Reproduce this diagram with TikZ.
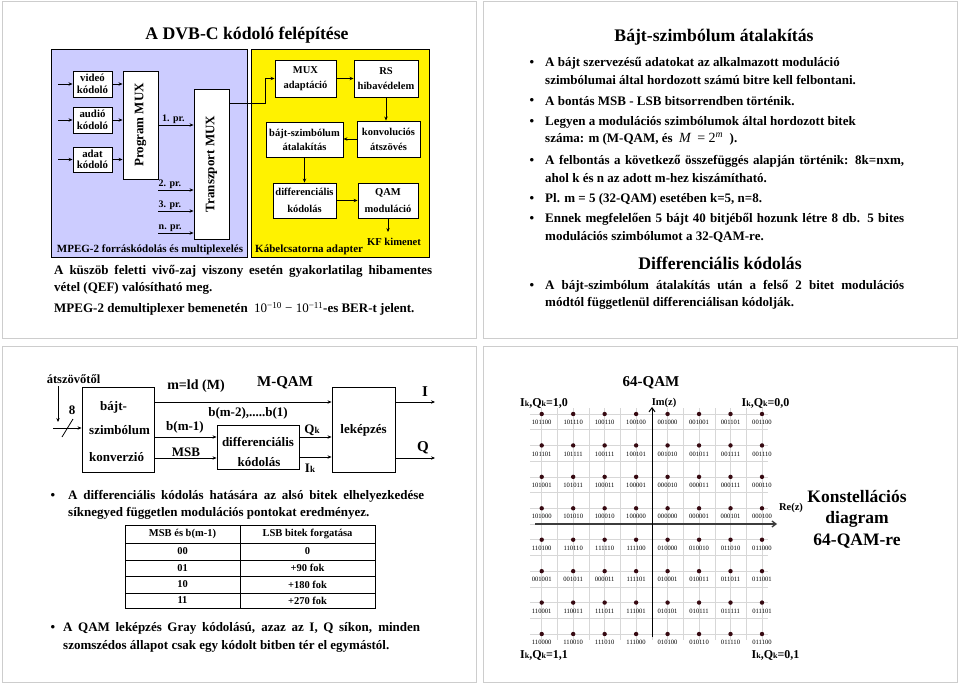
\documentclass[tikz,border=0pt]{standalone}
\usepackage{fontspec}
\setmainfont{Liberation Serif}
\usetikzlibrary{arrows.meta}
\newcommand\fsz[2]{\fontsize{#1}{#2}\selectfont}
\newcommand\smk{{\fsz{8}{8}k}}
\newcommand\smkb{{\fsz{9}{9}k}}
\definecolor{panelblue}{RGB}{204,204,255}
\definecolor{dotcol}{RGB}{55,10,18}
\definecolor{framec}{RGB}{205,205,205}
\definecolor{gridc}{RGB}{215,215,215}
\begin{document}
\begin{tikzpicture}[x=1pt,y=-1pt,
  blk/.style={draw, line width=0.9pt, fill=white, inner sep=0pt, align=center},
  arr/.style={-{Stealth[length=4pt,width=3.4pt]}, line width=0.8pt},
  txt/.style={inner sep=0pt, font=\bfseries\fsz{13}{13}},
  ltxt/.style={inner sep=0pt, anchor=west, font=\bfseries\fsz{13}{13}},
  ttl/.style={inner sep=0pt, font=\bfseries\fsz{17.7}{17.7}},
  bul/.style={inner sep=0pt, font=\bfseries\fsz{13}{13}},
  frame/.style={draw=framec, line width=0.8pt},
  axis/.style={-{Straight Barb[length=4pt,width=6pt]}, line width=1pt}
]
\useasboundingbox (0,0) rectangle (960,684);
\fill[white] (0,0) rectangle (960,684);
% slide frames
\draw[frame] (2.5,1.5) rectangle (476,338);
\draw[frame] (483,1.5) rectangle (957.5,338);
\draw[frame] (2.5,346) rectangle (476,682);
\draw[frame] (483,346) rectangle (957.5,682.5);

%================ slide 1
\node[ttl] (t1) at (247,35) {A DVB-C kódoló felépítése};
\draw[fill=panelblue, line width=0.9pt] (51,49) rectangle (247,257);
\draw[fill=yellow, line width=0.9pt] (251,49) rectangle (429,257);

\node[blk, minimum width=39pt, minimum height=26pt, font=\bfseries\fsz{10.8}{11.5}] (vid) at (92.5,84) {videó\\kódoló};
\node[blk, minimum width=39pt, minimum height=26pt, font=\bfseries\fsz{10.8}{11.5}] (aud) at (92.5,120) {audió\\kódoló};
\node[blk, minimum width=39pt, minimum height=25pt, font=\bfseries\fsz{10.8}{11.5}] (adat) at (92.5,159.5) {adat\\kódoló};
\node[blk, minimum width=35pt, minimum height=108pt] (pmux) at (140.5,125) {};
\node[rotate=90, inner sep=0pt, font=\bfseries\fsz{13}{13}] (pmuxt) at (pmux.center) {Program MUX};
\node[blk, minimum width=35pt, minimum height=150pt] (tmux) at (211.5,164) {};
\node[rotate=90, inner sep=0pt, font=\bfseries\fsz{13}{13}] (tmuxt) at (tmux.center) {Transzport MUX};

\coordinate (vin) at (58,84);
\coordinate (ain) at (58,120);
\coordinate (din) at (58,159.5);
\draw[arr] (vin) -- (vid.west);
\draw[arr] (ain) -- (aud.west);
\draw[arr] (din) -- (adat.west);
\draw[arr] (vid.east) -- (pmux.west |- vid.east);
\draw[arr] (aud.east) -- (pmux.west |- aud.east);
\draw[arr] (adat.east) -- (pmux.west |- adat.east);

\coordinate (p1) at (158,125);
\coordinate (p2) at (158,190);
\coordinate (p3) at (158,211);
\coordinate (pn) at (158,233);
\draw[arr] (p1) -- (tmux.west |- p1);
\draw[arr] (p2) -- (tmux.west |- p2);
\draw[arr] (p3) -- (tmux.west |- p3);
\draw[arr] (pn) -- (tmux.west |- pn);
\node[inner sep=0pt, anchor=south west, font=\bfseries\fsz{10}{10}] (l1) at (162,123.5) {1. pr.};
\node[inner sep=0pt, anchor=south west, font=\bfseries\fsz{10}{10}] (l2) at (158.5,188.5) {2. pr.};
\node[inner sep=0pt, anchor=south west, font=\bfseries\fsz{10}{10}] (l3) at (158.5,209.5) {3. pr.};
\node[inner sep=0pt, anchor=south west, font=\bfseries\fsz{10}{10}] (ln) at (158.5,231.5) {n. pr.};

\node[blk, minimum width=61pt, minimum height=37pt, font=\bfseries\fsz{10.5}{15}] (muxa) at (305.5,78.5) {MUX\\adaptáció};
\node[blk, minimum width=64pt, minimum height=37pt, font=\bfseries\fsz{10.5}{15}] (rs) at (386,78.5) {RS\\hibavédelem};
\node[blk, minimum width=63pt, minimum height=36pt, font=\bfseries\fsz{10.5}{15}] (konv) at (388.5,139) {konvoluciós\\átszövés};
\node[blk, minimum width=77pt, minimum height=35pt, font=\bfseries\fsz{10.5}{14}] (bsz) at (304.5,139.5) {bájt-szimbólum\\átalakítás};
\node[blk, minimum width=63pt, minimum height=35pt, font=\bfseries\fsz{10.5}{17}] (diff) at (304.5,200.5) {differenciális\\kódolás};
\node[blk, minimum width=60pt, minimum height=35pt, font=\bfseries\fsz{10.5}{17}] (qam) at (388,200.5) {QAM\\moduláció};

\draw[arr] (tmux.east |- 0,103) -- (265,103) -- (265,78.5) -- (muxa.west);
\draw[arr] (muxa.east) -- (rs.west);
\draw[arr] (rs.south) -- (rs.south |- konv.north);
\draw[arr] (konv.west) -- (bsz.east |- konv.west);
\draw[arr] (bsz.south) -- (bsz.south |- diff.north);
\draw[arr] (diff.east) -- (qam.west);
\coordinate (kf) at (388,232);
\draw[arr] (qam.south) -- (kf);

\node[inner sep=0pt, font=\bfseries\fsz{10.6}{10.6}] (kft) at (394,242) {KF kimenet};
\node[inner sep=0pt, anchor=west, font=\bfseries\fsz{11}{11}] (kab) at (255,250) {Kábelcsatorna adapter};
\node[inner sep=0pt, font=\bfseries\fsz{11}{11}] (mpg) at (150,250) {MPEG-2 forráskódolás és multiplexelés};

\node[ltxt] (s1a) at (54,271) {\makebox[378pt][s]{A küszöb feletti vivő-zaj viszony esetén gyakorlatilag hibamentes}};
\node[ltxt] (s1b) at (54,288) {vétel (QEF) valósítható meg.};
\node[ltxt] (s1c) at (54,309) {MPEG-2 demultiplexer bemenetén \ {\mdseries 10\textsuperscript{−10} − 10\textsuperscript{−11}}-es BER-t jelent.};

%================ slide 2
\node[ttl] (t2) at (714,37) {Bájt-szimbólum átalakítás};
\foreach \yy in {63,101,122,161,199,219,286}{
  \node[bul] at (532,\yy) {•};
}
\node[ltxt] (b1a) at (545,63) {A bájt szervezésű adatokat az alkalmazott moduláció};
\node[ltxt] (b1b) at (545,80) {szimbólumai által hordozott számú bitre kell felbontani.};
\node[ltxt] (b2) at (545,101) {A bontás MSB - LSB bitsorrendben történik.};
\node[ltxt] (b3a) at (545,122) {Legyen a modulációs szimbólumok által hordozott bitek};
\node[ltxt] (b3b) at (545,139) {száma: m (M-QAM, és \ {\mdseries\fsz{14}{14}\textit{M} \,= 2\textsuperscript{\textit{m}}} \ ).};
\node[ltxt] (b4a) at (545,161) {\makebox[359pt][s]{A felbontás a következő összefüggés alapján történik: 8k=nxm,}};
\node[ltxt] (b4b) at (545,178) {ahol k és n az adott m-hez kiszámítható.};
\node[ltxt] (b5) at (545,199) {Pl. m = 5 (32-QAM) esetében k=5, n=8.};
\node[ltxt] (b6a) at (545,219) {\makebox[359pt][s]{Ennek megfelelően 5 bájt 40 bitjéből hozunk létre 8 db. 5 bites}};
\node[ltxt] (b6b) at (545,237) {modulációs szimbólumot a 32-QAM-re.};
\node[ttl] (t3) at (720,263) {Differenciális kódolás};
\node[ltxt] (b7a) at (545,286) {\makebox[359pt][s]{A bájt-szimbólum átalakítás után a felső 2 bitet modulációs}};
\node[ltxt] (b7b) at (545,303) {módtól függetlenül differenciálisan kódolják.};

%================ slide 3
\node[txt, font=\bfseries\fsz{12.5}{12.5}] (atsz) at (73.5,379) {átszövőtől};
\coordinate (atop) at (58,386);
\coordinate (abot) at (58,422);
\draw[arr] (atop) -- (abot);
\node[blk, minimum width=72pt, minimum height=85pt] (bsk) at (118,429.5) {};
\node[txt, anchor=west] (bska) at (100,407) {bájt-};
\node[txt, anchor=west] (bskb) at (89,430) {szimbólum};
\node[txt, anchor=west] (bskc) at (89,457) {konverzió};
\coordinate (bin) at (53,428);
\draw[arr] (bin) -- (bsk.west |- bin);
\draw[line width=0.8pt] (62,437) -- (73,419);
\node[txt] (eight) at (72,410) {8};

\node[blk, minimum width=63pt, minimum height=85pt] (lek) at (363.5,429.5) {};
\node[txt] (lekt) at (363.5,430) {leképzés};
\node[blk, minimum width=82pt, minimum height=44pt] (dk) at (258,447) {};
\node[txt] (dka) at (258,442) {differenciális};
\node[txt] (dkb) at (259,462) {kódolás};

\draw[arr] (bsk.east |- 0,402) -- (lek.west |- 0,402);
\draw[arr] (bsk.east |- 0,437) -- (dk.west |- 0,437);
\draw[arr] (bsk.east |- 0,458) -- (dk.west |- 0,458);
\draw[arr] (dk.east |- 0,437) -- (lek.west |- 0,437);
\draw[arr] (dk.east |- 0,457) -- (lek.west |- 0,457);
\coordinate (iout) at (435,402);
\coordinate (qout) at (435,458);
\draw[arr] (lek.east |- iout) -- (iout);
\draw[arr] (lek.east |- qout) -- (qout);

\node[txt, font=\bfseries\fsz{14}{14}] (mld) at (196,386) {m=ld (M)};
\node[txt, font=\bfseries\fsz{15}{15}] (mqam) at (285,383) {M-QAM};
\node[txt] (bm2) at (248,413) {b(m-2),.....b(1)};
\node[txt] (bm1) at (185,427) {b(m-1)};
\node[txt] (msb) at (186,452) {MSB};
\node[txt] (qk) at (312,430) {Q\smkb};
\node[txt] (ik) at (310,468) {I\smkb};
\node[txt, font=\bfseries\fsz{15}{15}] (iI) at (425,392) {I};
\node[txt, font=\bfseries\fsz{15}{15}] (qQ) at (423,448) {Q};

\node[bul] at (53,496) {•};
\node[ltxt] (c1a) at (68,496) {\makebox[356pt][s]{A differenciális kódolás hatására az alsó bitek elhelyezkedése}};
\node[ltxt] (c1b) at (68,513) {síknegyed független modulációs pontokat eredményez.};

\draw[line width=0.9pt] (125,525) rectangle (375,608);
\draw[line width=0.9pt] (240,525) -- (240,608);
\foreach \yy in {543,560,576,593}{ \draw[line width=0.9pt] (125,\yy) -- (375,\yy); }
\begin{scope}[every node/.style={inner sep=0pt, font=\bfseries\fsz{10.5}{10.5}}]
\node (h1) at (182.5,534) {MSB és b(m-1)};
\node (h2) at (307.5,534) {LSB bitek forgatása};
\node (r1a) at (182.5,551.5) {00};
\node (r1b) at (307.5,551.5) {0};
\node (r2a) at (182.5,568) {01};
\node (r2b) at (307.5,568) {+90 fok};
\node (r3a) at (182.5,584.5) {10};
\node (r3b) at (307.5,584.5) {+180 fok};
\node (r4a) at (182.5,600.5) {11};
\node (r4b) at (307.5,600.5) {+270 fok};
\end{scope}

\node[bul] at (53,628) {•};
\node[ltxt] (c2a) at (63,628) {\makebox[357pt][s]{A QAM leképzés Gray kódolású, azaz az I, Q síkon, minden}};
\node[ltxt] (c2b) at (63,646) {szomszédos állapot csak egy kódolt bitben tér el egymástól.};

%================ slide 4
\node[txt, font=\bfseries\fsz{15}{15}] (q64) at (651,383) {64-QAM};
\foreach \k in {0,...,14}{
  \draw[gridc, line width=0.5pt] ({541.7+15.735*\k},408) -- ({541.7+15.735*\k},640);
  \draw[gridc, line width=0.5pt] (530,{414+15.715*\k}) -- (768,{414+15.715*\k});
}
\coordinate (rel) at (535,524);
\coordinate (rer) at (777,524);
\coordinate (imb) at (652,637);
\coordinate (imt) at (652,407);
\draw[axis, draw={rgb,255:red,60;green,60;blue,60}, line width=1.3pt] (rel) -- (rer);
\draw[axis] (imb) -- (imt);
\foreach \row [count=\j from 0] in {
 {101100,101110,100110,100100,001000,001001,001101,001100},
 {101101,101111,100111,100101,001010,001011,001111,001110},
 {101001,101011,100011,100001,000010,000011,000111,000110},
 {101000,101010,100010,100000,000000,000001,000101,000100},
 {110100,110110,111110,111100,010000,010010,011010,011000},
 {001001,001011,000011,111101,010001,010011,011011,011001},
 {110001,110011,111011,111001,010101,010111,011111,011101},
 {110000,110010,111010,111000,010100,010110,011110,011100}}{
  \foreach \lab [count=\i from 0] in \row {
    \node[circle, fill=dotcol, inner sep=0pt, minimum size=4.4pt] (d\i-\j) at ({541.7+31.47*\i},{414+31.43*\j}) {};
    \node[inner sep=0pt, font=\fsz{6.6}{6.6}] (n\i-\j) at ({541.7+31.47*\i},{422.5+31.43*\j}) {\lab};
  }
}
\node[txt, font=\bfseries\fsz{12}{12}] (k10) at (544,403) {I\smk,Q\smk=1,0};
\node[txt, font=\bfseries\fsz{10.5}{10.5}] (imz) at (664,403) {Im(z)};
\node[txt, font=\bfseries\fsz{12}{12}] (k00) at (765.5,403) {I\smk,Q\smk=0,0};
\node[txt, font=\bfseries\fsz{10.5}{10.5}] (rez) at (791,508) {Re(z)};
\node[txt, font=\bfseries\fsz{12}{12}] (k11) at (544,655) {I\smk,Q\smk=1,1};
\node[txt, font=\bfseries\fsz{12}{12}] (k01) at (775.5,655) {I\smk,Q\smk=0,1};
\node[txt, font=\bfseries\fsz{17.5}{17.5}] (ka) at (857,497) {Konstellációs};
\node[txt, font=\bfseries\fsz{17.5}{17.5}] (kb) at (857,519) {diagram};
\node[txt, font=\bfseries\fsz{17.5}{17.5}] (kc) at (857,541) {64-QAM-re};
\end{tikzpicture}
\end{document}
